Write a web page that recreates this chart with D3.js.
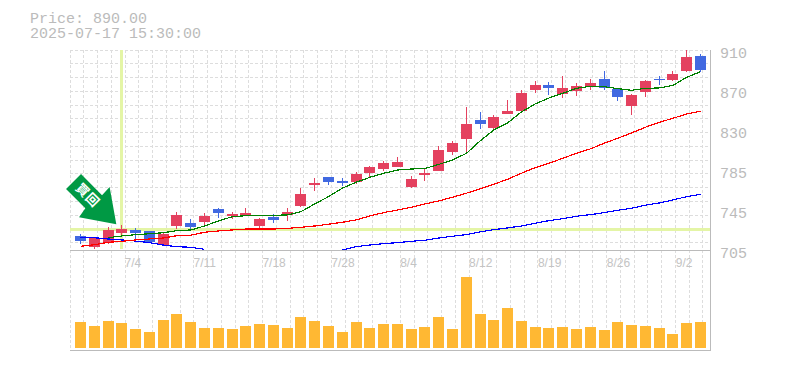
<!DOCTYPE html>
<html>
<head>
<meta charset="utf-8">
<script src="https://cdn.jsdelivr.net/npm/d3@7"></script>
<style>
body { margin: 0; background: #fff; }
svg { display: block; }
.title { font: 15px "Liberation Mono", monospace; fill: #bbb; }
.axis text { fill: #bbb; }
.axis--x text { font: 12px "Liberation Sans", sans-serif; fill: #c4c4c4; }
.axis--y text { font: 15px "Liberation Mono", monospace; }
</style>
</head>
<body>
<svg id="chart" width="785" height="370"></svg>
<script>
var dates = ['6/30', '7/1', '7/2', '7/3', '7/4', '7/7', '7/8', '7/9', '7/10', '7/11',
	'7/14', '7/15', '7/16', '7/17', '7/18', '7/22', '7/23', '7/24', '7/25', '7/28',
	'7/29', '7/30', '7/31', '8/1', '8/4', '8/5', '8/6', '8/7', '8/8', '8/12',
	'8/13', '8/14', '8/15', '8/18', '8/19', '8/20', '8/21', '8/22', '8/25', '8/26',
	'8/27', '8/28', '8/29', '9/1', '9/2', '9/3'];
var dateTicks = ['7/4', '7/11', '7/18', '7/28', '8/4', '8/12', '8/19', '8/26', '9/2'];
var priceTicks = ['705', '745', '785', '830', '870', '910'];

var opens = [719.7, 708.1, 712.5, 722.4, 725.2, 724.2, 710.4, 729.6, 732.4, 733.7,
	747, 739.9, 740.9, 729.6, 738.8, 740.9, 750.1, 771.6, 779.9, 775.7,
	774.7, 783.9, 788, 790.1, 769.6, 781.9, 786, 805.5, 818.8, 838.3,
	830.1, 844.4, 847.5, 869, 874.2, 864.9, 868, 873.1, 880.3, 870.1,
	852.6, 867, 880.3, 879.3, 888.5, 903.9];
var highs = [721.4, 717.3, 728.3, 730.6, 727.6, 724.5, 722.4, 744, 736.5, 742.9,
	748, 744, 748, 737.8, 741.9, 748, 768.6, 778.8, 779.9, 778.8,
	785, 791.1, 796.2, 800.3, 780.9, 789.1, 811.6, 816.7, 851.6, 846.5,
	843.4, 858.8, 869, 878.2, 877.2, 883.4, 876.2, 880.3, 888.5, 870.1,
	864.9, 879.3, 883.4, 888.5, 910, 905.9];
var lows = [711.2, 706.3, 711.2, 720.4, 716, 713.2, 709.1, 726.5, 725.5, 730.3,
	737.8, 736.8, 739.9, 726.2, 732.7, 734.7, 749.1, 765.5, 771.6, 770.6,
	772.7, 779.9, 786, 790.1, 768.6, 775.7, 786, 802.4, 803.4, 829.1,
	829.1, 844.4, 846.5, 866, 863.9, 860.8, 862.9, 869, 869, 857.7,
	843.4, 861.9, 874.2, 878.2, 887.5, 887.5];
var closes = [714.2, 717.3, 725.2, 726.5, 722.4, 713.2, 721.4, 740.6, 728.6, 739.5,
	742.9, 741.9, 742.9, 736.8, 735.8, 744, 762.4, 773.7, 774.7, 773.7,
	782.9, 790.1, 794.2, 795.2, 777.8, 783.9, 807.5, 814.7, 834.2, 834.2,
	841.3, 847.5, 866, 874.2, 871.1, 871.1, 873.1, 876.2, 871.1, 861.9,
	863.9, 878.2, 879.3, 885.4, 902.9, 889.5];
var volumes = [260, 220, 270, 250, 190, 160, 280, 340, 260, 200,
	200, 190, 220, 240, 230, 200, 310, 270, 220, 160,
	260, 200, 240, 240, 190, 210, 310, 190, 710, 340,
	280, 400, 270, 210, 200, 210, 190, 210, 180, 260,
	230, 220, 200, 140, 250, 260];

var maShort = [null, null, 717.6, 719.4, 720.7, 721.7, 722.7, 724.8, 725.5, 729.6,
	734.7, 739.1, 740.2, 740.6, 740.6, 740.9, 744.3, 752.2, 759.7, 768.3,
	774.4, 779.5, 783.6, 787, 788, 788.5, 792.7, 797.3, 804, 816.7,
	828, 835.2, 846.5, 854.7, 860.8, 865.6, 870.7, 872.8, 872.4, 870.4,
	868.7, 870.7, 871.1, 873.8, 882, 887.8];
var maMid = [708.8, 710.4, 712.9, 713.9, 715.3, 716.3, 717.3, 719.7, 720.1, 723.2,
	724.5, 725.5, 726.5, 726.5, 726.5, 727.1, 728.3, 729.6, 731.4, 733.4,
	735.8, 739.9, 743.3, 746, 748.8, 752.2, 755.3, 759.1, 763.2, 767.6,
	772.4, 777.5, 783.7, 789.4, 793.9, 799, 804.2, 808.6, 814.4, 819.5,
	825, 830.8, 835.9, 840, 844.4, 847.2];
// runs under the bottom of the price panel from 7/14 to 7/25
var maLong = [717.6, 717.6, 716.3, 715.3, 714.2, 712.5, 710.1, 708.4, 707.8, 705.7,
	null, null, null, null, null, null, null, null, null, 705,
	708.4, 710.1, 711.5, 712.5, 713.9, 715, 717.3, 719.1, 720.7, 723.5,
	725.9, 727.6, 729.6, 732.4, 735.1, 737.1, 739.6, 741.2, 743.3, 745.7,
	747.8, 750.9, 753.2, 756.3, 759.7, 762.1];

var crossDate = '7/3';
var crossPrice = 726.2;
var priceText = 'Price: 890.00';
var timeText = '2025-07-17 15:30:00';
var markerText = '買回';

function drawChart(svg) {
	var left = 70,
		right = 710,
		priceTop = 50,
		priceBottom = 250,
		volumeTop = 277,
		volumeBase = 348,
		volumeBottom = 350,
		gridStep = 13.76;

	var x = d3.scaleBand()
		.domain(dates)
		.range([73.6, 707.4])
		.paddingInner(0.2)
		.paddingOuter(0.1);
	var y = d3.scaleLinear().domain([705, 910]).range([priceBottom, priceTop]);
	var yTicks = d3.scalePoint().domain(priceTicks).range([priceBottom, priceTop]);
	var yVolume = d3.scaleLinear().domain([0, d3.max(volumes)]).range([volumeBase, volumeTop]);

	function center(d) { return x(d) + x.bandwidth() / 2; }
	function pixel(d) { return Math.floor(d) + 0.5; }

	svg.append('defs').append('clipPath').attr('id', 'price-clip')
		.append('rect')
			.attr('x', left)
			.attr('y', priceTop)
			.attr('width', right - left)
			.attr('height', priceBottom - priceTop);

	// grid
	var grid = svg.append('g')
		.attr('stroke', '#ddd')
		.attr('stroke-dasharray', '3,2');
	grid.selectAll('.v').data(d3.range(left, right - 3, gridStep)).enter().append('line')
		.attr('x1', function(d) { return pixel(d); })
		.attr('x2', function(d) { return pixel(d); })
		.attr('y1', priceTop)
		.attr('y2', volumeBottom);
	grid.selectAll('.h').data(d3.range(priceTop, priceBottom, gridStep)).enter().append('line')
		.attr('x1', left)
		.attr('x2', right)
		.attr('y1', function(d) { return pixel(d); })
		.attr('y2', function(d) { return pixel(d); });

	// frame
	var frame = svg.append('g').attr('stroke', '#bbb');
	frame.append('line').attr('x1', right + 0.5).attr('x2', right + 0.5).attr('y1', priceTop).attr('y2', volumeBottom + 1);
	frame.append('line').attr('x1', left).attr('x2', right).attr('y1', priceBottom + 0.5).attr('y2', priceBottom + 0.5);
	frame.append('line').attr('x1', left).attr('x2', right).attr('y1', volumeBottom + 0.5).attr('y2', volumeBottom + 0.5);

	// cross hair
	var cross = svg.append('g')
		.attr('stroke', '#e4f5a6')
		.attr('stroke-width', 3)
		.attr('shape-rendering', 'crispEdges');
	cross.append('line')
		.attr('x1', center(crossDate))
		.attr('x2', center(crossDate))
		.attr('y1', priceTop)
		.attr('y2', priceBottom - 1);
	cross.append('line')
		.attr('x1', left)
		.attr('x2', right)
		.attr('y1', y(crossPrice))
		.attr('y2', y(crossPrice));

	// candles
	var candles = svg.append('g').attr('shape-rendering', 'crispEdges');
	var color = function(i) { return closes[i] >= opens[i] ? '#e4415f' : '#4169e1'; };
	dates.forEach(function(d, i) {
		candles.append('line')
			.attr('x1', center(d))
			.attr('x2', center(d))
			.attr('y1', y(highs[i]))
			.attr('y2', y(lows[i]))
			.attr('stroke', color(i));
		candles.append('rect')
			.attr('x', x(d))
			.attr('y', y(Math.max(opens[i], closes[i])))
			.attr('width', x.bandwidth())
			.attr('height', Math.max(1, Math.abs(y(opens[i]) - y(closes[i]))))
			.attr('fill', color(i));
	});

	// moving averages
	var line = d3.line()
		.defined(function(d) { return d !== null; })
		.x(function(d, i) { return center(dates[i]); })
		.y(function(d) { return y(d); });
	[[maLong, '#0000ff'], [maMid, '#ff0000'], [maShort, '#008000']].forEach(function(s) {
		svg.append('path')
			.attr('d', line(s[0]))
			.attr('fill', 'none')
			.attr('stroke', s[1])
			.attr('stroke-width', 1.2)
			.attr('shape-rendering', 'crispEdges')
			.attr('clip-path', 'url(#price-clip)');
	});

	// volume
	svg.append('g').selectAll('rect').data(volumes).enter().append('rect')
		.attr('x', function(d, i) { return x(dates[i]); })
		.attr('y', function(d) { return yVolume(d); })
		.attr('width', x.bandwidth())
		.attr('height', function(d) { return volumeBase - yVolume(d); })
		.attr('fill', '#ffb833')
		.attr('shape-rendering', 'crispEdges');

	// axes, the date labels start a little left of their candle
	var xAxis = svg.append('g')
		.attr('class', 'axis axis--x')
		.attr('transform', 'translate(0,' + (priceBottom + 5) + ')')
		.call(d3.axisBottom(x).tickValues(dateTicks).tickSize(0));
	xAxis.select('.domain').remove();
	xAxis.selectAll('text').attr('text-anchor', 'start').attr('dx', -11);
	var yAxis = svg.append('g')
		.attr('class', 'axis axis--y')
		.attr('transform', 'translate(' + (right + 10) + ',3)')
		.call(d3.axisRight(yTicks).tickSize(0).tickPadding(0));
	yAxis.select('.domain').remove();

	// arrow marker, its shape is relative to the tip
	var tipX = center(crossDate) - 5.5,
		tipY = y(crossPrice) - 5;
	var arrow = svg.append('g').attr('transform', 'translate(' + tipX + ',' + tipY + ')');
	arrow.append('path')
		.attr('d', 'M-35.3,-50.3 L-50.3,-35.3 L-31,-16 L-37.3,-7 L0,0 L-6.7,-37.3 L-14.3,-29 Z')
		.attr('fill', '#009944');
	arrow.append('text')
		.attr('transform', 'translate(-28.5,-29) rotate(45)')
		.attr('text-anchor', 'middle')
		.attr('dy', '0.35em')
		.attr('fill', '#fff')
		.style('font', 'bold 13px "Noto Sans CJK JP", sans-serif')
		.style('letter-spacing', '1px')
		.text(markerText);

	// title
	svg.append('text').attr('class', 'title').attr('x', 30).attr('y', 23).text(priceText);
	svg.append('text').attr('class', 'title').attr('x', 30).attr('y', 38).text(timeText);
}

drawChart(d3.select('#chart'));
</script>
</body>
</html>
